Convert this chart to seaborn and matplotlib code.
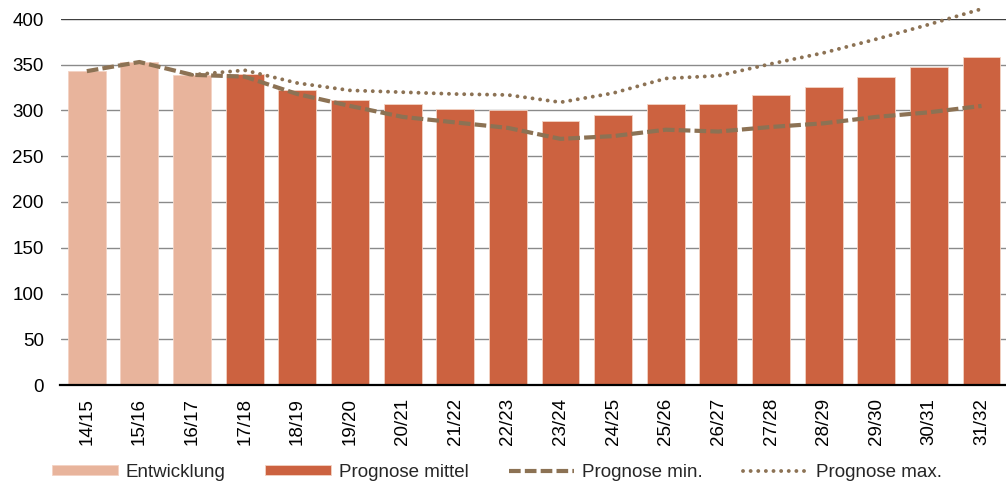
import numpy as np
import pandas as pd
import matplotlib
matplotlib.use("Agg")
import matplotlib.pyplot as plt
import seaborn as sns

# School years on the x axis
years = ["14/15", "15/16", "16/17", "17/18", "18/19", "19/20", "20/21", "21/22", "22/23",
         "23/24", "24/25", "25/26", "26/27", "27/28", "28/29", "29/30", "30/31", "31/32"]

# Bar series: observed development, then the medium forecast
bar_values = [343, 353, 339, 340, 322, 311, 307, 302, 300,
              289, 295, 307, 307, 317, 326, 337, 348, 358]
bar_kind = ["Entwicklung"] * 3 + ["Prognose mittel"] * 15

# Forecast range lines
min_values = [343, 353, 339, 337, 318, 305, 293, 287, 281,
              269, 272, 279, 277, 282, 286, 293, 298, 305]
max_values = [None, None, 339, 344, 330, 322, 320, 318, 317,
              309, 319, 335, 338, 351, 363, 378, 394, 411]

y_ticks = [0, 50, 100, 150, 200, 250, 300, 350, 400]

light = "#E8B49C"
dark = "#CC6240"
line_col = "#8C7254"

sns.set_theme(style="white")
plt.rcParams["font.family"] = ["Liberation Sans", "DejaVu Sans"]

df = pd.DataFrame({"Jahr": years, "Wert": bar_values, "Art": bar_kind,
                   "pos": np.arange(len(years)),
                   "min": min_values,
                   "max": pd.array(max_values, dtype="Float64")})

W, H = 1006, 486
fig = plt.figure(figsize=(W / 100, H / 100), dpi=100)
ax = fig.add_axes([60.5 / W, 101 / H, (W - 60.5) / W, 366 / H])

sns.barplot(data=df, x="Jahr", y="Wert", hue="Art", dodge=False, width=0.72,
            palette={"Entwicklung": light, "Prognose mittel": dark},
            edgecolor="#F3D3C4", linewidth=0.6, saturation=1, ax=ax, zorder=2)

sns.lineplot(x=df["pos"], y=df["min"], color=line_col, lw=3.0,
             dashes=False, linestyle=(0, (2.8, 1.0)), label="Prognose min.",
             ax=ax, zorder=3, clip_on=False)
dmax = df.dropna(subset=["max"])
sns.lineplot(x=dmax["pos"], y=dmax["max"].astype(float), color=line_col, lw=2.8,
             linestyle=(0, (0.01, 1.95)), dash_capstyle="round",
             label="Prognose max.", ax=ax, zorder=3, clip_on=False)

ax.set_xlim(-0.5, 17.465)
ax.set_ylim(0, 400)
ax.set_yticks(y_ticks)
ax.set_xlabel("")
ax.set_ylabel("")
ax.tick_params(axis="y", length=0, pad=12, labelsize=13.5, colors="black")
ax.tick_params(axis="x", length=0, pad=9.5, labelsize=13.5, rotation=90, colors="black")

ax.yaxis.grid(True, color="#8A8A8A", lw=1.0, zorder=0)
ax.set_axisbelow(True)
grid = ax.get_ygridlines()
grid[-1].set_color("#404040")

for side in ["left", "right", "top"]:
    ax.spines[side].set_visible(False)
ax.spines["bottom"].set_color("black")
ax.spines["bottom"].set_linewidth(1.6)
ax.spines["bottom"].set_zorder(4)

handles, labels = ax.get_legend_handles_labels()
if ax.get_legend() is not None:
    ax.get_legend().remove()
fig.legend(handles, labels, loc="center", bbox_to_anchor=(497 / W, 1 - 472 / H),
           ncol=4, frameon=False, fontsize=13.5, handlelength=3.5,
           handletextpad=0.4, columnspacing=2.15, handleheight=0.5)

fig.savefig("out.png", dpi=100)
